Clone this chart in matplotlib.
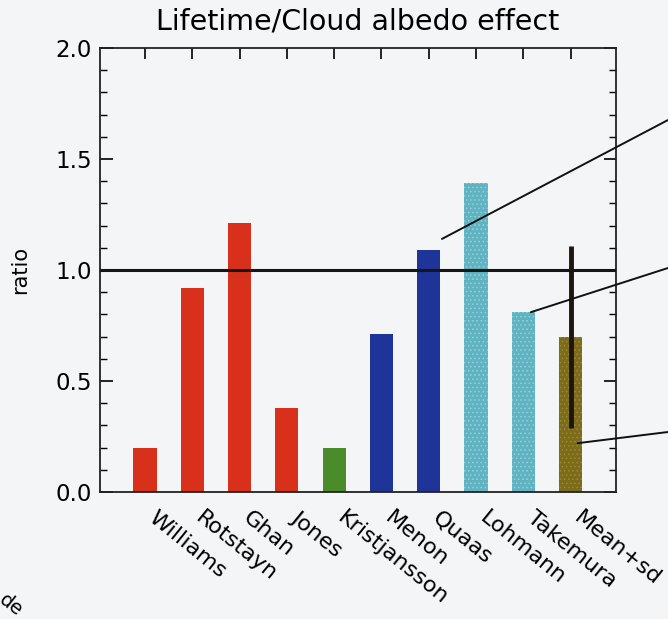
import matplotlib
matplotlib.use("Agg")
import matplotlib.pyplot as plt
import numpy as np

# ---- data ----
models = ["Williams", "Rotstayn", "Ghan", "Jones", "Kristjansson",
          "Menon", "Quaas", "Lohmann", "Takemura", "Mean+sd"]
ratios = [0.20, 0.92, 1.21, 0.38, 0.20, 0.71, 1.09, 1.39, 0.81, 0.70]
bar_colors = ["#d9301c", "#d9301c", "#d9301c", "#d9301c", "#4a8c2a",
              "#1f3499", "#1f3499", "#62b3c2", "#62b3c2", "#7d6b1c"]
mean_sd = 0.41
yticks = [0.0, 0.5, 1.0, 1.5, 2.0]
title = "Lifetime/Cloud albedo effect"
ylabel = "ratio"

plt.rcParams['hatch.linewidth'] = 0.6
bg = "#f4f5f6"
fig = plt.figure(figsize=(6.68, 6.19), dpi=100, facecolor=bg)
ax = fig.add_axes([100/668, 1-492/619, 516/668, 444/619])
ax.set_facecolor(bg)

x = np.arange(len(models))
bars = ax.bar(x, ratios, width=0.49, color=bar_colors, zorder=2, linewidth=0)
for i in (7, 8, 9):
    bars[i].set_hatch("....")
    bars[i].set_edgecolor("#8fd2dd" if i != 9 else "#9a8a30")
    bars[i].set_linewidth(0)

# error bar on the mean
ax.errorbar([x[-1]], [ratios[-1]], yerr=[mean_sd], fmt="none",
            ecolor="#1e1410", elinewidth=3.5, capsize=0, zorder=3)

# reference line at 1
ax.axhline(1.0, color="#151515", lw=2.2, zorder=4)

ax.set_xlim(-0.95, 9.96)
ax.set_ylim(0, 2.0)
ax.set_yticks(yticks)
ax.set_yticklabels([f"{v:.1f}" for v in yticks], fontsize=16.5)
ax.yaxis.set_minor_locator(matplotlib.ticker.MultipleLocator(0.1))
ax.tick_params(axis="y", which="major", direction="in", length=9, width=1.2,
               right=True, left=True, pad=6)
ax.tick_params(axis="y", which="minor", direction="in", length=5, width=1.0,
               right=True, left=True)

ax.set_xticks(x)
ax.set_xticklabels([])
ax.tick_params(axis="x", which="major", direction="in", length=8, width=1.2,
               top=True, bottom=False)

for s in ax.spines.values():
    s.set_linewidth(1.3)
    s.set_color("#222222")

for xi, name in zip(x, models):
    ax.annotate(name, xy=(xi, 0), xycoords=("data", "axes fraction"),
                xytext=(9, -11), textcoords="offset points",
                rotation=-39, rotation_mode="anchor", ha="left", va="top",
                fontsize=16, annotation_clip=False)

ax.set_title(title, fontsize=20.5, pad=13)
ax.set_ylabel(ylabel, fontsize=15, labelpad=18)

# leader lines running off the right edge
leaders = [((6.28, 1.14), (1.0, 1 - 120/619)),
           ((8.16, 0.81), (1.0, 1 - 268/619)),
           ((9.15, 0.22), (1.0, 1 - 432/619))]
for xy, xyt in leaders:
    ax.annotate("", xy=xy, xycoords="data", xytext=xyt,
                textcoords="figure fraction",
                arrowprops=dict(arrowstyle="-", color="#111111", lw=1.4,
                                shrinkA=0, shrinkB=0),
                annotation_clip=False)

# cut-off text fragment at bottom-left
fig.text(0.002, 1 - 598/619, "de", fontsize=14, rotation=-38,
         rotation_mode="anchor", ha="left", va="center")

fig.savefig("out.png", dpi=100, facecolor=bg)
